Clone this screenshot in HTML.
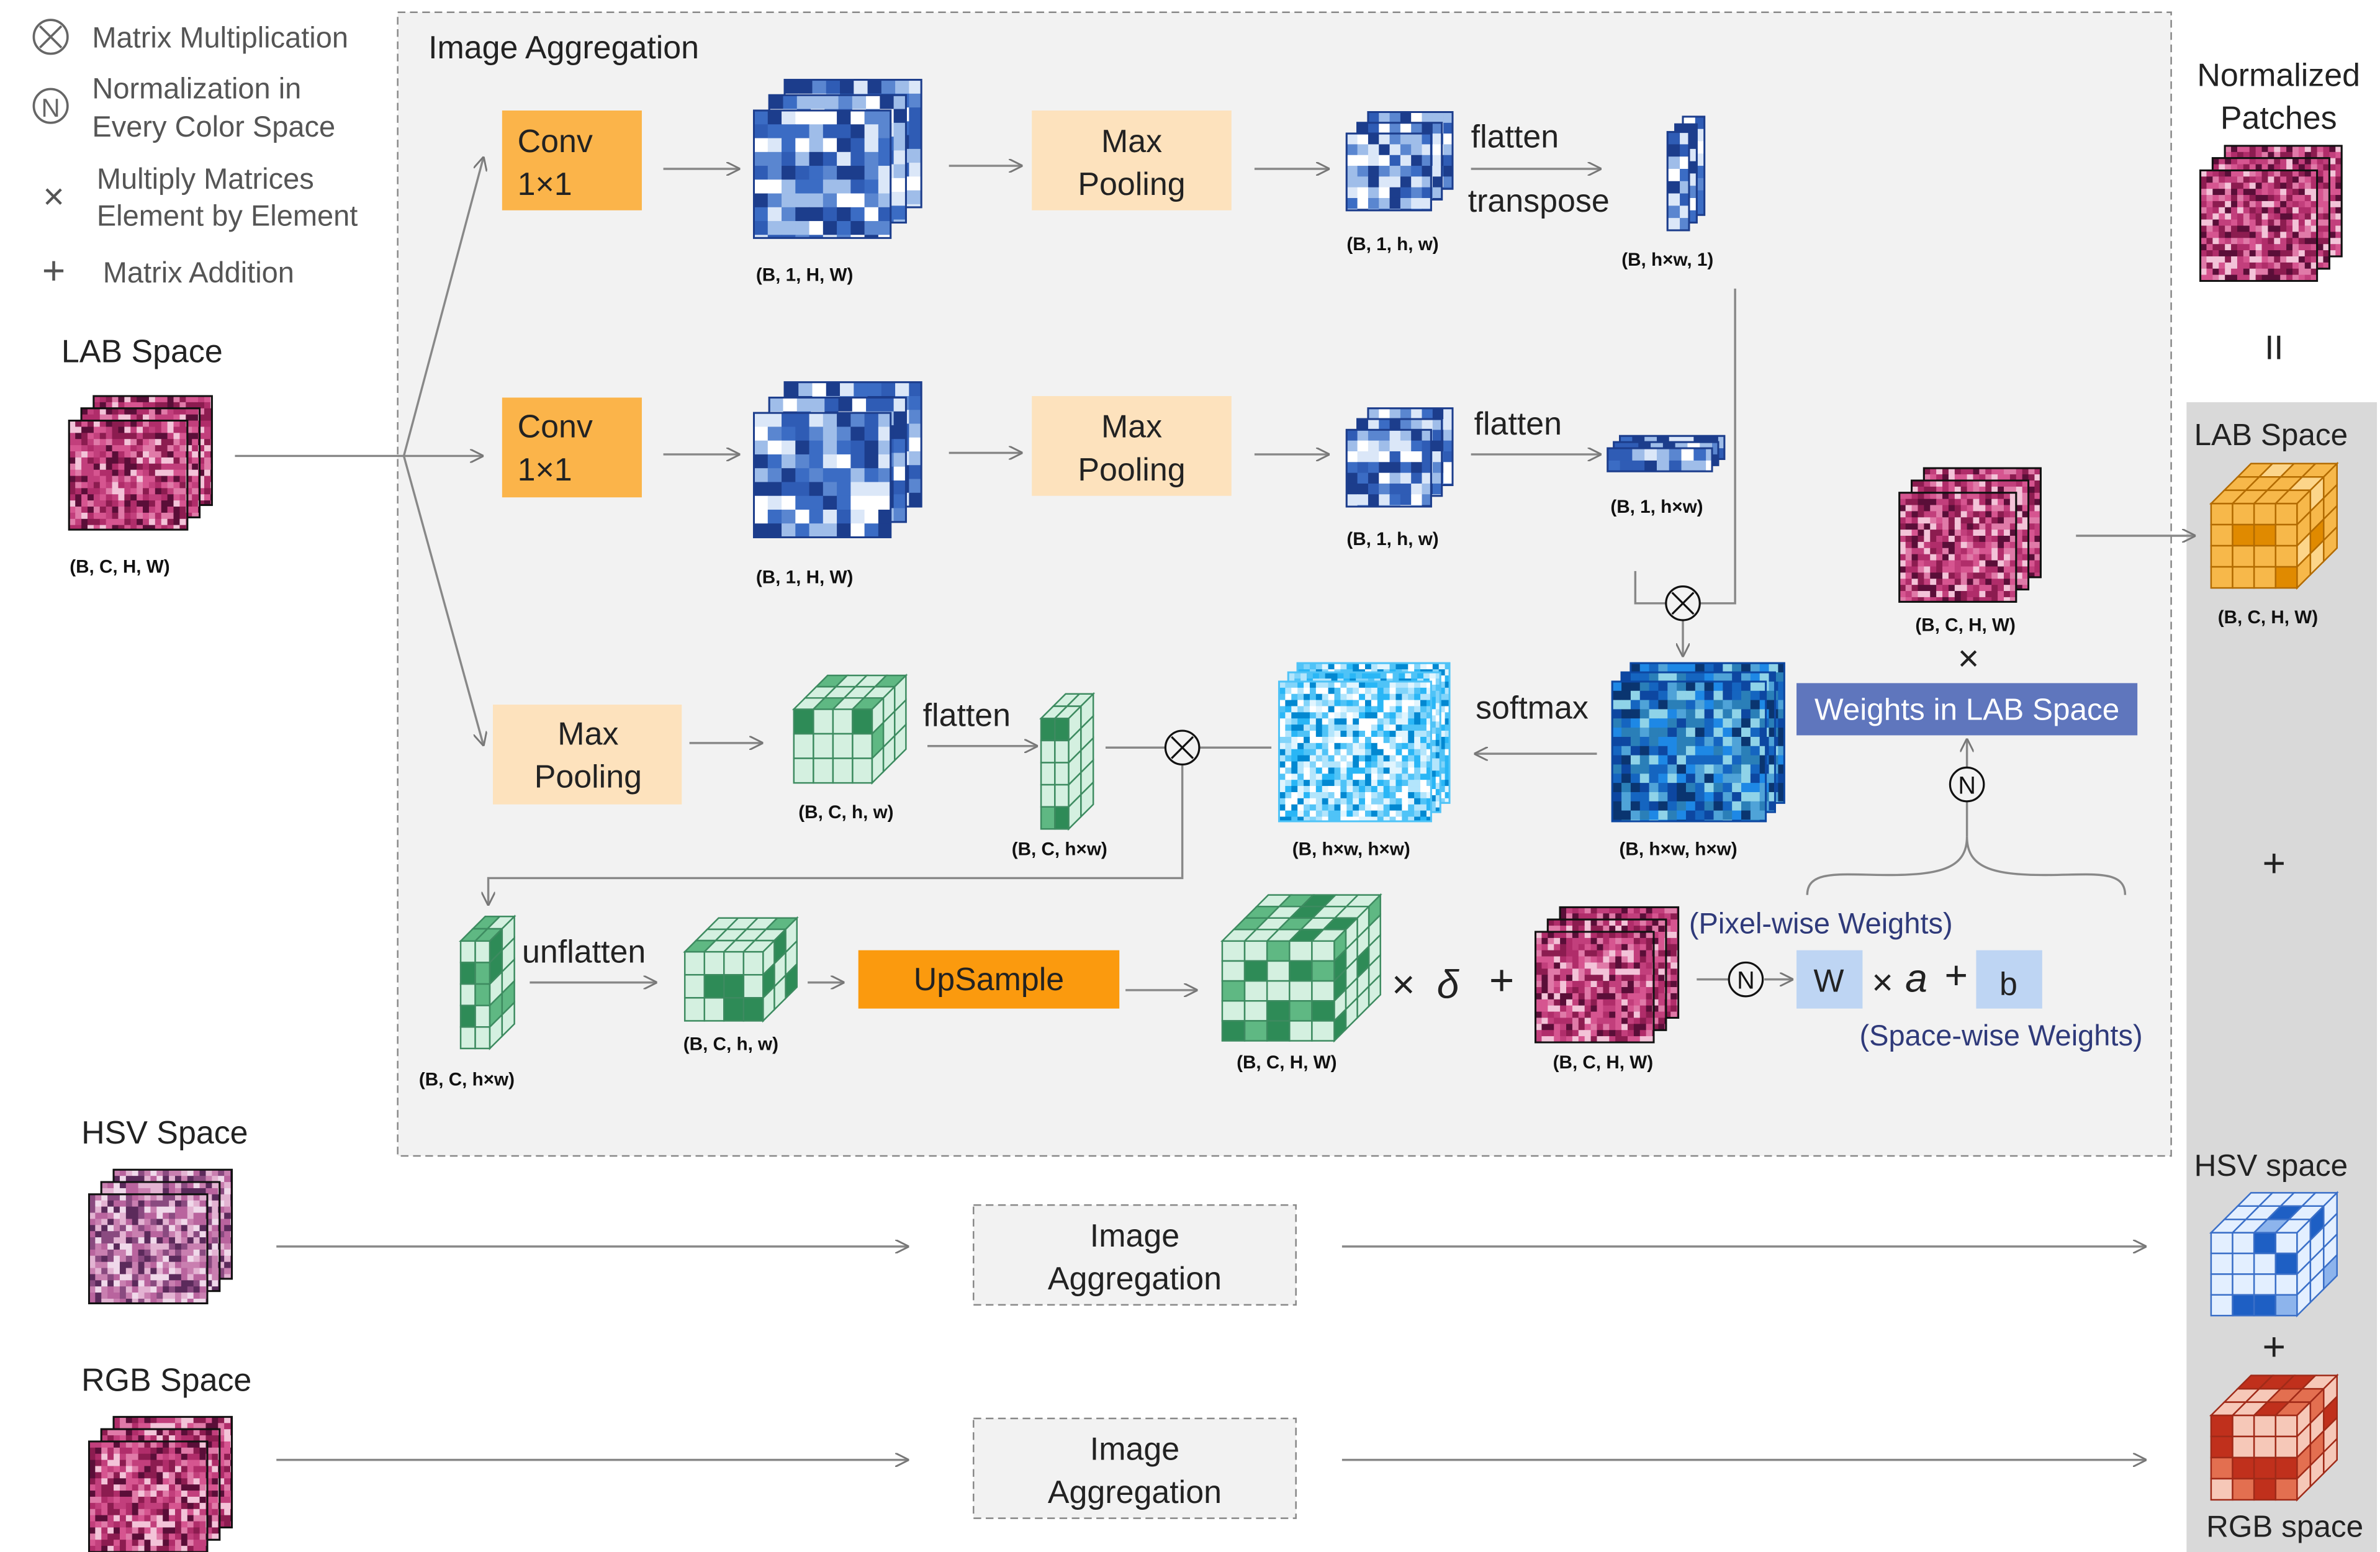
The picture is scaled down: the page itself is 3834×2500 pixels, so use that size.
<!DOCTYPE html>
<html><head><meta charset="utf-8">
<style>
html,body{margin:0;padding:0;background:#fff;}
svg{display:block;}
text{font-family:"Liberation Sans",Arial,sans-serif;}
.t{font-size:21px;fill:#222;}
.g{font-size:19px;fill:#555;}
.s{font-size:12px;font-weight:bold;fill:#111;}
.bl{font-size:19px;fill:#2f3a7a;}
</style></head><body>
<svg id="sv" width="3834" height="2500" viewBox="0 0 1550 1011" preserveAspectRatio="none" xmlns="http://www.w3.org/2000/svg">
<defs>
<marker id="ar" viewBox="0 0 10 10" refX="10" refY="5" markerWidth="9" markerHeight="9" orient="auto" markerUnits="userSpaceOnUse"><path d="M0,0 L10,5 L0,10" fill="none" stroke="#777" stroke-width="1.3"/></marker>
</defs>
<rect x="0" y="0" width="1550" height="1011" fill="#fff"/>
<!-- panels -->
<rect x="259" y="8" width="1155" height="745" fill="#f2f2f2" stroke="#888" stroke-dasharray="5,3" stroke-width="1"/>
<rect x="1424" y="262" width="124" height="758" fill="#d9d9d9"/>
<rect x="634" y="785" width="210" height="65" fill="#f2f2f2" stroke="#888" stroke-dasharray="5,3"/>
<rect x="634" y="924" width="210" height="65" fill="#f2f2f2" stroke="#888" stroke-dasharray="5,3"/>
<g id="shapes"></g>

<!-- legend -->
<circle cx="33" cy="24" r="11" fill="none" stroke="#666" stroke-width="1.5"/>
<path d="M26,17 L40,31 M40,17 L26,31" stroke="#666" stroke-width="1.5"/>
<text class="g" x="60" y="31">Matrix Multiplication</text>
<circle cx="33" cy="69" r="11" fill="none" stroke="#666" stroke-width="1.5"/>
<text x="33" y="76" text-anchor="middle" style="font-size:17px;fill:#666">N</text>
<text class="g" x="60" y="64">Normalization in</text>
<text class="g" x="60" y="89">Every Color Space</text>
<text x="35" y="136" text-anchor="middle" style="font-size:24px;fill:#555">×</text>
<text class="g" x="63" y="123">Multiply Matrices</text>
<text class="g" x="63" y="147">Element by Element</text>
<text x="35" y="185" text-anchor="middle" style="font-size:26px;fill:#555">+</text>
<text class="g" x="67" y="184">Matrix Addition</text>

<text class="t" x="279" y="38">Image Aggregation</text>
<text class="t" x="40" y="236">LAB Space</text>
<text class="s" x="78" y="373" text-anchor="middle">(B, C, H, W)</text>
<text class="t" x="53" y="745">HSV Space</text>
<text class="t" x="53" y="906">RGB Space</text>

<!-- boxes -->
<rect x="327" y="72" width="91" height="65" fill="#fbb44a"/>
<text class="t" x="337" y="99">Conv</text><text class="t" x="337" y="127">1×1</text>
<rect x="327" y="259" width="91" height="65" fill="#fbb44a"/>
<text class="t" x="337" y="285">Conv</text><text class="t" x="337" y="313">1×1</text>
<rect x="672" y="72" width="130" height="65" fill="#fde2bd"/>
<text class="t" x="737" y="99" text-anchor="middle">Max</text><text class="t" x="737" y="127" text-anchor="middle">Pooling</text>
<rect x="672" y="258" width="130" height="65" fill="#fde2bd"/>
<text class="t" x="737" y="285" text-anchor="middle">Max</text><text class="t" x="737" y="313" text-anchor="middle">Pooling</text>
<rect x="321" y="459" width="123" height="65" fill="#fde2bd"/>
<text class="t" x="383" y="485" text-anchor="middle">Max</text><text class="t" x="383" y="513" text-anchor="middle">Pooling</text>
<rect x="559" y="619" width="170" height="38" fill="#fb9a0e"/>
<text class="t" x="644" y="645" text-anchor="middle">UpSample</text>
<rect x="1170" y="445" width="222" height="34" fill="#5f76bd"/>
<text x="1281" y="469" text-anchor="middle" style="font-size:20px;fill:#fff">Weights in LAB Space</text>
<rect x="1170" y="619" width="43" height="38" fill="#bed5f3"/>
<rect x="1287" y="619" width="43" height="38" fill="#bed5f3"/>
<text class="t" x="1191" y="646" text-anchor="middle">W</text>
<text class="t" x="1308" y="648" text-anchor="middle">b</text>
<text x="1226" y="648" text-anchor="middle" style="font-size:24px;fill:#222">×</text>
<text x="1248" y="646" text-anchor="middle" style="font-size:26px;fill:#222;font-style:italic">a</text>
<text x="1274" y="644" text-anchor="middle" style="font-size:26px;fill:#222">+</text>
<text class="bl" x="1100" y="608">(Pixel-wise Weights)</text>
<text class="bl" x="1211" y="681">(Space-wise Weights)</text>
<text class="t" x="739" y="812" text-anchor="middle">Image</text><text class="t" x="739" y="840" text-anchor="middle">Aggregation</text>
<text class="t" x="739" y="951" text-anchor="middle">Image</text><text class="t" x="739" y="979" text-anchor="middle">Aggregation</text>

<!-- labels -->
<text class="s" x="524" y="183" text-anchor="middle">(B, 1, H, W)</text>
<text class="s" x="524" y="380" text-anchor="middle">(B, 1, H, W)</text>
<text class="s" x="907" y="163" text-anchor="middle">(B, 1, h, w)</text>
<text class="s" x="907" y="355" text-anchor="middle">(B, 1, h, w)</text>
<text class="s" x="1086" y="173" text-anchor="middle">(B, h×w, 1)</text>
<text class="s" x="1079" y="334" text-anchor="middle">(B, 1, h×w)</text>
<text class="s" x="1093" y="557" text-anchor="middle">(B, h×w, h×w)</text>
<text class="s" x="880" y="557" text-anchor="middle">(B, h×w, h×w)</text>
<text class="s" x="551" y="533" text-anchor="middle">(B, C, h, w)</text>
<text class="s" x="690" y="557" text-anchor="middle">(B, C, h×w)</text>
<text class="s" x="304" y="707" text-anchor="middle">(B, C, h×w)</text>
<text class="s" x="476" y="684" text-anchor="middle">(B, C, h, w)</text>
<text class="s" x="838" y="696" text-anchor="middle">(B, C, H, W)</text>
<text class="s" x="1044" y="696" text-anchor="middle">(B, C, H, W)</text>
<text class="s" x="1280" y="411" text-anchor="middle">(B, C, H, W)</text>
<text class="s" x="1477" y="406" text-anchor="middle">(B, C, H, W)</text>
<text class="t" x="958" y="96">flatten</text>
<text class="t" x="956" y="138">transpose</text>
<text class="t" x="960" y="283">flatten</text>
<text class="t" x="601" y="473">flatten</text>
<text class="t" x="961" y="468">softmax</text>
<text class="t" x="340" y="627">unflatten</text>
<text x="914" y="650" text-anchor="middle" style="font-size:26px;fill:#222">×</text>
<text x="943" y="650" text-anchor="middle" style="font-size:26px;fill:#222;font-style:italic">δ</text>
<text x="978" y="648" text-anchor="middle" style="font-size:28px;fill:#222">+</text>
<text x="1282" y="437" text-anchor="middle" style="font-size:24px;fill:#222">×</text>

<!-- right panel text -->
<text class="t" x="1484" y="56" text-anchor="middle">Normalized</text>
<text class="t" x="1484" y="84" text-anchor="middle">Patches</text>
<text x="1481" y="234" text-anchor="middle" style="font-size:22px;fill:#222">II</text>
<text class="t" x="1479" y="290" text-anchor="middle" style="font-size:20px">LAB Space</text>
<text x="1481" y="571" text-anchor="middle" style="font-size:26px;fill:#222">+</text>
<text class="t" x="1479" y="766" text-anchor="middle" style="font-size:20px">HSV space</text>
<text x="1481" y="886" text-anchor="middle" style="font-size:26px;fill:#222">+</text>
<text class="t" x="1488" y="1001" text-anchor="middle" style="font-size:20px">RGB space</text>

<!-- connectors -->
<g fill="none" stroke="#888" stroke-width="1.4">
<path d="M153,297 H263"/>
<path d="M263,297 L315,102" marker-end="url(#ar)"/>
<path d="M263,297 H315" marker-end="url(#ar)"/>
<path d="M263,297 L315,486" marker-end="url(#ar)"/>
<path d="M432,110 H482" marker-end="url(#ar)"/>
<path d="M618,108 H666" marker-end="url(#ar)"/>
<path d="M817,110 H866" marker-end="url(#ar)"/>
<path d="M958,110 H1043" marker-end="url(#ar)"/>
<path d="M432,296 H482" marker-end="url(#ar)"/>
<path d="M618,295 H666" marker-end="url(#ar)"/>
<path d="M817,296 H866" marker-end="url(#ar)"/>
<path d="M958,296 H1043" marker-end="url(#ar)"/>
<path d="M1130,188 V393 H1107"/>
<path d="M1065,372 V393 H1085"/>
<path d="M1096,404 V428" marker-end="url(#ar)"/>
<path d="M1040,491 H960" marker-end="url(#ar)"/>
<path d="M828,487 H781"/>
<path d="M720,487 H759"/>
<path d="M770,498 V572 H318 V590" marker-end="url(#ar)"/>
<path d="M449,484 H497" marker-end="url(#ar)"/>
<path d="M604,486 H676" marker-end="url(#ar)"/>
<path d="M345,640 H428" marker-end="url(#ar)"/>
<path d="M526,640 H550" marker-end="url(#ar)"/>
<path d="M733,645 H780" marker-end="url(#ar)"/>
<path d="M1105,638 H1126"/>
<path d="M1149,638 H1168" marker-end="url(#ar)"/>
<path d="M1281,545 V522"/>
<path d="M1281,500 V481" marker-end="url(#ar)"/>
<path d="M1177,583 C1177,566 1200,570 1230,570 C1265,570 1281,565 1281,545 C1281,565 1297,570 1332,570 C1362,570 1384,566 1384,583"/>
<path d="M1352,349 H1430" marker-end="url(#ar)"/>
<path d="M180,812 H592" marker-end="url(#ar)"/>
<path d="M874,812 H1398" marker-end="url(#ar)"/>
<path d="M180,951 H592" marker-end="url(#ar)"/>
<path d="M874,951 H1398" marker-end="url(#ar)"/>
</g>
<g fill="#f2f2f2" stroke="#111" stroke-width="1.3">
<circle cx="1096" cy="393" r="11"/><path d="M1089,386 L1103,400 M1103,386 L1089,400"/>
<circle cx="770" cy="487" r="11"/><path d="M763,480 L777,494 M777,480 L763,494"/>
<circle cx="1137" cy="638" r="11"/>
<circle cx="1281" cy="511" r="11"/>
</g>
<text x="1137" y="644" text-anchor="middle" style="font-size:16px;fill:#111">N</text>
<text x="1281" y="517" text-anchor="middle" style="font-size:16px;fill:#111">N</text>
</svg>
<script>
(function(){
var NS="http://www.w3.org/2000/svg",G=document.getElementById("shapes");
var seed=7;function rnd(){seed=(seed*16807)%2147483647;return seed/2147483647;}
function el(t,a){var e=document.createElementNS(NS,t);for(var k in a)e.setAttribute(k,a[k]);G.appendChild(e);return e;}
function pick(p){return p[Math.floor(rnd()*p.length)];}
function stack(x0,y0,x1,y1,n,off,pal,cs,border){
  var w=x1-x0-off*(n-1),h=y1-y0-off*(n-1);
  for(var i=n-1;i>=0;i--){var x=x0+off*i,y=y0+off*(n-1-i);
    el("rect",{x:x,y:y,width:w,height:h,fill:pal[0],stroke:border,"stroke-width":1.2});
    for(var cy=0;cy<h-0.01;cy+=cs)for(var cx=0;cx<w-0.01;cx+=cs){
      el("rect",{x:x+cx,y:y+cy,width:Math.min(cs,w-cx)+0.3,height:Math.min(cs,h-cy)+0.3,fill:pick(pal)});}
    el("rect",{x:x,y:y,width:w,height:h,fill:"none",stroke:border,"stroke-width":1.2});
  }}
function cube(x0,y0,x1,y1,d,nx,ny,nz,light,dark,line,pd){
  var fw=x1-x0-d,fh=y1-y0-d,fx=x0,fy=y0+d,cw=fw/nx,ch=fh/ny;
  for(var j=0;j<ny;j++)for(var i=0;i<nx;i++)el("rect",{x:fx+i*cw,y:fy+j*ch,width:cw,height:ch,fill:rnd()<pd?pick(dark):light,stroke:line,"stroke-width":1});
  var dz=d/nz;
  for(var k=0;k<nz;k++)for(var i=0;i<nx;i++){var ax=fx+i*cw+k*dz,ay=fy-k*dz;
    el("polygon",{points:[ax,ay,ax+dz,ay-dz,ax+dz+cw,ay-dz,ax+cw,ay].join(","),fill:rnd()<pd?pick(dark):light,stroke:line,"stroke-width":1});}
  for(var k=0;k<nz;k++)for(var j=0;j<ny;j++){var ax=fx+fw+k*dz,ay=fy+j*ch-k*dz;
    el("polygon",{points:[ax,ay,ax+dz,ay-dz,ax+dz,ay-dz+ch,ax,ay+ch].join(","),fill:rnd()<pd?pick(dark):light,stroke:line,"stroke-width":1});}
}
var blue=["#1c3d8c","#2f5cb5","#5a86d0","#9fbde9","#dbe7f8","#ffffff","#3b6cc4"];
var tissue=["#c23f7c","#e07aa8","#8c1c50","#f3c3d8","#d65590","#5a0e38","#b02d6a"];
var tissueH=["#c97fb0","#e3b3d2","#8a4a80","#f0d9ea","#b9649e","#5b2a5b"];
var cyan=["#4fc3f7","#b3e5fc","#e1f5fe","#29b6f6","#0288d1","#81d4fa","#ffffff"];
var deep=["#0d47a1","#1565c0","#1e88e5","#4fa3d8","#8fd3e8","#0a3570","#2a7fb8"];
stack(45,258,138,345,3,8,tissue,4,"#111");
stack(58,762,151,849,3,8,tissueH,4,"#111");
stack(58,923,151,1011,3,8,tissue,4,"#111");
stack(1000,591,1093,679,3,8,tissue,4,"#111");
stack(1237,305,1329,392,3,8,tissue,4,"#111");
stack(1433,95,1525,183,3,8,tissue,4,"#111");
stack(491,52,600,155,3,10,blue,9,"#1c3d8c");
stack(491,249,600,350,3,10,blue,9,"#1c3d8c");
stack(877,73,946,137,3,7,blue,7,"#1c3d8c");
stack(877,266,946,330,3,7,blue,7,"#1c3d8c");
stack(1086,76,1110,150,3,5,blue,8,"#1c3d8c");
stack(1047,284,1123,307,3,4,blue,8,"#1c3d8c");
stack(833,432,944,535,3,6,cyan,4,"#4fc3f7");
stack(1050,432,1162,535,3,6,deep,6,"#0d47a1");
var gl="#d4f0e0",gd=["#2e8b57","#5fb883"],gline="#3d8b60";
cube(517,440,590,510,22,4,3,3,gl,gd,gline,0.25);
cube(678,452,712,540,16,2,5,2,gl,gd,gline,0.25);
cube(300,597,335,683,16,2,5,2,gl,gd,gline,0.3);
cube(446,598,519,665,22,4,3,3,gl,gd,gline,0.25);
cube(796,583,899,678,30,5,5,4,gl,gd,gline,0.35);
cube(1440,302,1522,383,26,4,4,3,"#f7b84a",["#e08a00","#fcd58a"],"#b36b00",0.4);
cube(1440,777,1522,857,26,4,4,3,"#e3efff",["#1e5fc4","#8db4ec"],"#3a6fc8",0.3);
cube(1440,896,1522,977,26,4,4,3,"#f6c8b8",["#c0301c","#e36f50"],"#a02a18",0.45);
})();
</script>
</body></html>
